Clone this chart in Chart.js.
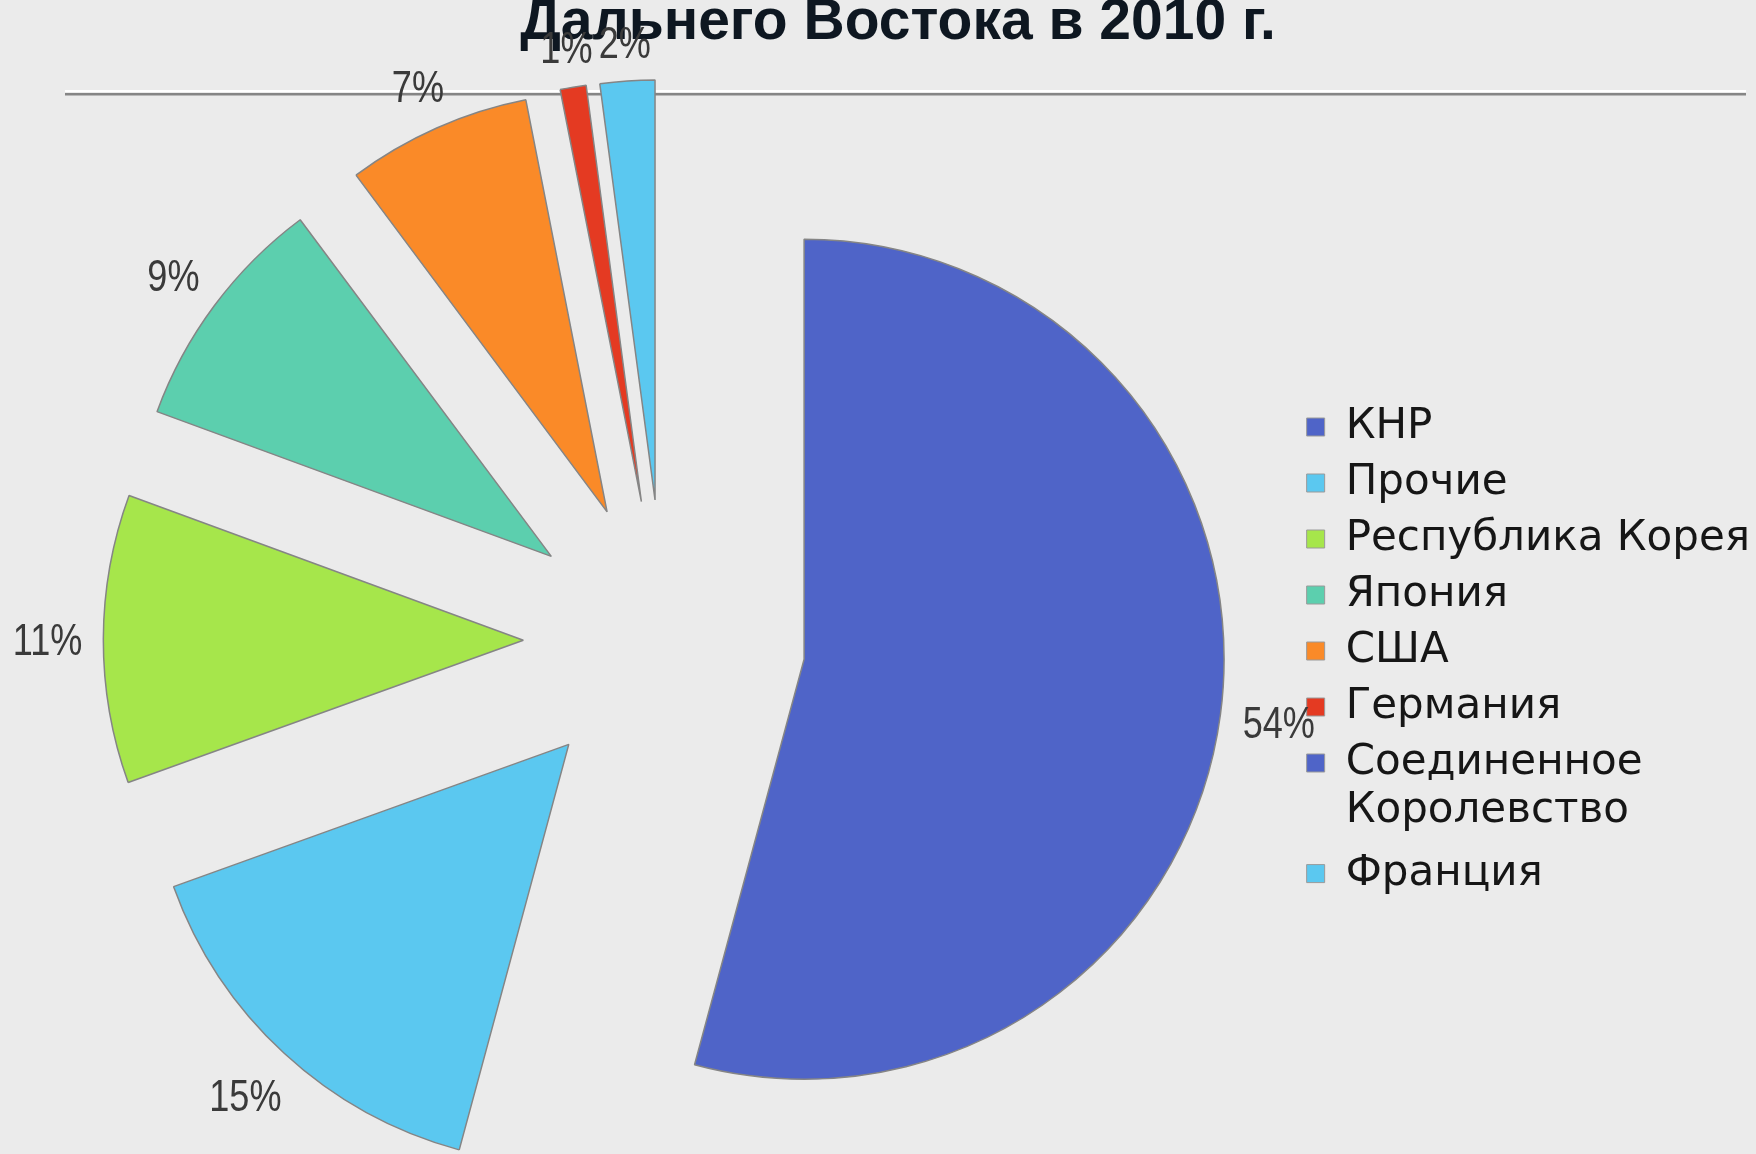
<!DOCTYPE html>
<html lang="ru">
<head>
<meta charset="utf-8">
<title>Дальнего Востока в 2010 г.</title>
<script src="https://cdn.jsdelivr.net/npm/chart.js@4/dist/chart.umd.min.js"></script>
<style>
  html, body { margin: 0; padding: 0; background: #ebebeb; }
  #wrap { width: 1756px; height: 1154px; }
</style>
</head>
<body>
<div id="wrap"><canvas id="grafico" width="1756" height="1154"></canvas></div>
<script>
// dados (% do comércio exterior)
const paises = ['КНР', 'Прочие', 'Республика Корея', 'Япония', 'США', 'Германия', 'Соединенное Королевство', 'Франция'];
const valores = [54.2, 15.3, 11.1, 9.2, 7.1, 1.0, 0, 2.1];
const cores = ['#4f64c8', '#5bc8f0', '#a6e64b', '#5ccfae', '#fa8a28', '#e43a22', '#4f64c8', '#5bc8f0'];
const titulo = 'Дальнего Востока в 2010 г.';

// fundo + linha horizontal do slide
const fundoPlugin = {
    id: 'fundo',
    beforeDraw(chart) {
        const ctx = chart.ctx;
        ctx.save();
        ctx.fillStyle = '#ebebeb';
        ctx.fillRect(0, 0, chart.width, chart.height);
        ctx.restore();
    },
    beforeDatasetsDraw(chart) {
        const ctx = chart.ctx;
        ctx.save();
        ctx.fillStyle = '#ffffff';
        ctx.fillRect(65, 90, 1681, 2);
        ctx.fillStyle = '#858585';
        ctx.fillRect(65, 93, 1681, 2.5);
        ctx.restore();
    }
};

// afasta todas as fatias do centro (explosão uniforme)
const explodirPlugin = {
    id: 'explodir',
    beforeDatasetsDraw(chart, args, opts) {
        const area = chart.chartArea;
        const cx = (area.left + area.right) / 2;
        const cy = (area.top + area.bottom) / 2;
        chart.getDatasetMeta(0).data.forEach(arc => {
            const meio = (arc.startAngle + arc.endAngle) / 2;
            arc.x = cx + Math.cos(meio) * opts.distancia;
            arc.y = cy + Math.sin(meio) * opts.distancia;
        });
    }
};

// rótulos de porcentagem fora das fatias
const rotulosPlugin = {
    id: 'rotulos',
    afterDatasetsDraw(chart, args, opts) {
        const ctx = chart.ctx;
        const dados = chart.data.datasets[0].data;
        ctx.save();
        ctx.font = opts.fonte;
        ctx.fillStyle = opts.cor;
        ctx.textAlign = 'center';
        ctx.textBaseline = 'alphabetic';
        chart.getDatasetMeta(0).data.forEach((arc, i) => {
            const v = dados[i];
            if (v < 0.5) return;
            const txt = Math.round(v) + '%';
            const w = ctx.measureText(txt).width * opts.escala;
            const h = opts.altura;
            const meio = (arc.startAngle + arc.endAngle) / 2;
            const c = Math.cos(meio), s = Math.sin(meio);
            const d = arc.outerRadius + opts.folga + Math.abs(c) * w / 2 + Math.abs(s) * h / 2;
            ctx.save();
            ctx.translate(arc.x + c * d, arc.y + s * d);
            ctx.scale(opts.escala, 1);
            ctx.fillText(txt, 0, h / 2);
            ctx.restore();
        });
        ctx.restore();
    }
};

function quebrarLinha(texto) {
    return texto.length > 17 ? texto.split(' ') : texto;
}

const ctx = document.getElementById('grafico').getContext('2d');
new Chart(ctx, {
    type: 'pie',
    data: {
        labels: paises,
        datasets: [{
            data: valores,
            backgroundColor: cores,
            borderColor: '#858585',
            borderWidth: 1.5,
            radius: 420
        }]
    },
    options: {
        responsive: false,
        animation: false,
        layout: { padding: { left: 36, right: -4, top: 0, bottom: 0 } },
        plugins: {
            tooltip: { enabled: false },
            title: {
                display: true,
                text: titulo,
                color: '#0e1721',
                font: { family: 'Liberation Sans', size: 57, weight: 'bold' },
                padding: { top: -11, bottom: 70 }
            },
            legend: {
                position: 'right',
                align: 'center',
                fullSize: false,
                title: { display: true, text: ' ', font: { size: 16 }, padding: 0 },
                labels: {
                    color: '#161616',
                    font: { family: 'DejaVu Sans', size: 42, lineHeight: 1.15 },
                    boxWidth: 18,
                    boxHeight: 18,
                    padding: 14,
                    generateLabels(chart) {
                        const itens = Chart.overrides.pie.plugins.legend.labels.generateLabels(chart);
                        itens.forEach(it => { it.text = quebrarLinha(it.text); it.strokeStyle = '#9a9a9a'; it.lineWidth = 1; });
                        return itens;
                    }
                }
            },
            explodir: { distancia: 141 },
            rotulos: { fonte: '44px "Liberation Sans"', cor: '#3a3a3a', escala: 0.82, altura: 32, folga: 21 }
        }
    },
    plugins: [fundoPlugin, explodirPlugin, rotulosPlugin]
});
</script>
</body>
</html>
